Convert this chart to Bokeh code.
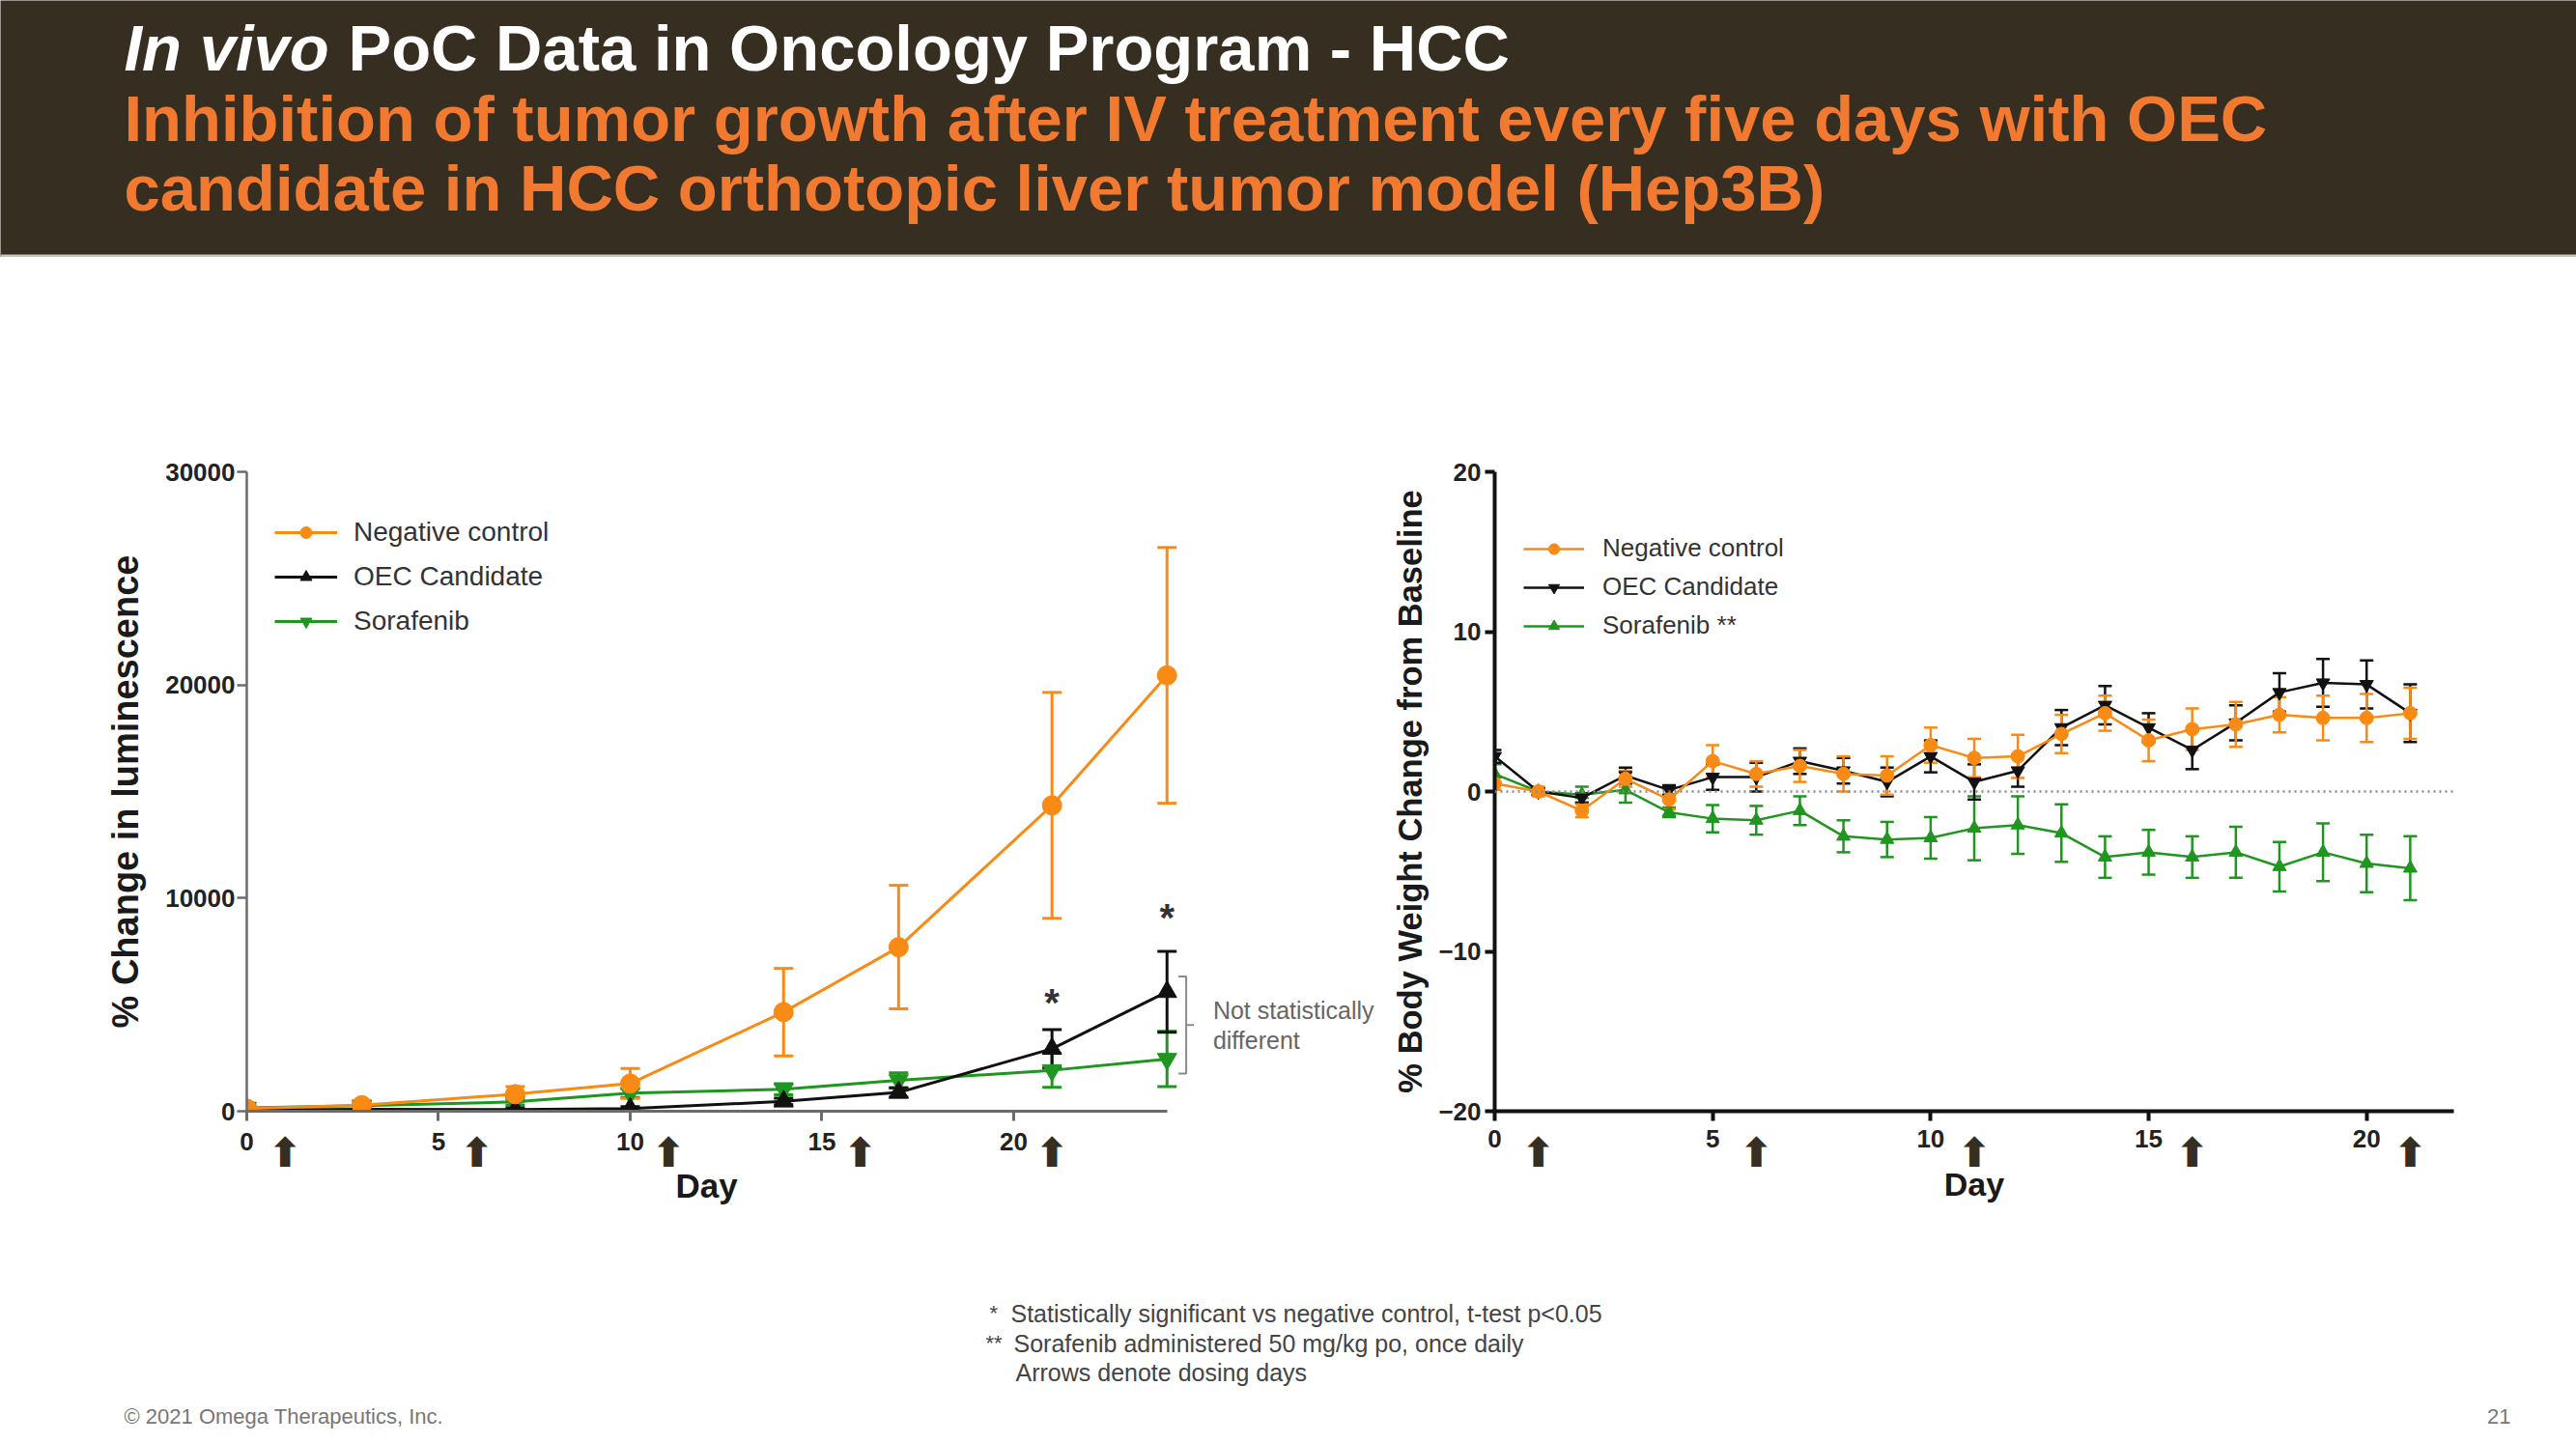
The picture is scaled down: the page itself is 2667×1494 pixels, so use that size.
from bokeh.plotting import figure
from bokeh.models import (ColumnDataSource, Whisker, TeeHead, Legend, LegendItem, Range1d,
                          FixedTicker, Span, NumeralTickFormatter, LinearAxis, Title)
from bokeh.layouts import column, row
from bokeh.embed import file_html
from bokeh.resources import INLINE
from bokeh.core.properties import value

FONT = "Liberation Sans"
ORANGE = "#f98a14"
GREEN = "#1f961f"
BLACK = "#111111"
DARK = "#362e20"
SUB_ORANGE = "#f27a30"

# ---------------- data ----------------
lum_days = [0, 3, 7, 10, 14, 17, 21, 24]
lum_neg = [120, 280, 800, 1300, 4650, 7700, 14350, 20450]
lum_neg_err = [150, 200, 350, 700, 2050, 2900, 5300, 6000]
lum_oec = [60, 90, 80, 120, 460, 880, 2930, 5600]
lum_oec_err = [60, 80, 80, 100, 150, 220, 900, 1900]
lum_sor = [160, 260, 440, 850, 1030, 1450, 1920, 2450]
lum_sor_err = [100, 150, 150, 200, 260, 350, 800, 1300]
sig_days = [21, 24]
sig_y = [5100, 9100]
lum_ticks = [0, 10000, 20000, 30000]

bw_days = list(range(22))
bw_neg = [0.5, 0.0, -1.2, 0.8, -0.5, 1.9, 1.1, 1.6, 1.1, 1.0, 2.9, 2.1, 2.2, 3.6, 4.9, 3.2, 3.9, 4.2, 4.8, 4.6, 4.6, 4.9]
bw_neg_err = [0.4, 0.3, 0.4, 0.5, 0.6, 1.0, 0.8, 1.0, 1.1, 1.2, 1.1, 1.2, 1.35, 1.2, 1.1, 1.3, 1.3, 1.4, 1.1, 1.4, 1.5, 1.6]
bw_oec = [2.2, 0.0, -0.4, 1.0, 0.1, 0.9, 0.9, 1.9, 1.3, 0.6, 2.2, 0.6, 1.3, 4.0, 5.4, 4.0, 2.6, 4.3, 6.2, 6.8, 6.7, 4.9]
bw_oec_err = [0.4, 0.2, 0.3, 0.5, 0.3, 0.8, 0.9, 0.8, 0.8, 0.9, 1.0, 1.1, 1.0, 1.1, 1.2, 0.9, 1.2, 1.1, 1.2, 1.5, 1.5, 1.8]
bw_sor = [1.1, 0.0, -0.2, 0.1, -1.3, -1.7, -1.8, -1.2, -2.8, -3.0, -2.9, -2.3, -2.1, -2.6, -4.1, -3.8, -4.1, -3.8, -4.7, -3.8, -4.5, -4.8]
bw_sor_err = [0.6, 0.2, 0.5, 0.8, 0.3, 0.85, 0.9, 0.9, 1.0, 1.1, 1.3, 2.0, 1.8, 1.8, 1.3, 1.4, 1.3, 1.6, 1.55, 1.8, 1.8, 2.0]
bw_ticks = [-20, -10, 0, 10, 20]

day_ticks = [0, 5, 10, 15, 20]
dose_days = [1, 6, 11, 16, 21]

# bracket ("Not statistically different") on day 24
bracket_day = 24.5
bracket_lo = 1770
bracket_hi = 6320

W = 2667
HEAD_H = 266
MID_H = 1042
FOOT_H = 186
LEFT_W = 1438


def style_axis(ax, color, lw, tick_out, standoff):
    ax.axis_line_color = color
    ax.axis_line_width = lw
    ax.major_tick_line_color = color
    ax.major_tick_line_width = lw
    ax.major_tick_in = 0
    ax.major_tick_out = tick_out
    ax.minor_tick_line_color = None
    ax.major_label_text_font = FONT
    ax.major_label_text_font_size = "26px"
    ax.major_label_text_font_style = "bold"
    ax.major_label_text_color = "#222222"
    ax.major_label_standoff = standoff
    ax.axis_label_text_font = FONT
    ax.axis_label_text_font_style = "bold"
    ax.axis_label_text_color = "#1a1a1a"


def add_series(p, x, y, err, color, marker, size, lw, cap):
    src = ColumnDataSource(dict(x=x, y=y, lo=[a - b for a, b in zip(y, err)],
                                hi=[a + b for a, b in zip(y, err)]))
    ln = p.line("x", "y", source=src, line_color=color, line_width=lw)
    sc = p.scatter("x", "y", source=src, marker=marker, size=size,
                   fill_color=color, line_color=color)
    p.add_layout(Whisker(source=src, base="x", upper="hi", lower="lo",
                         line_color=color, line_width=lw,
                         upper_head=TeeHead(size=cap, line_color=color, line_width=lw),
                         lower_head=TeeHead(size=cap, line_color=color, line_width=lw)))
    return ln, sc


def add_arrow_axis(p, standoff):
    # dosing-day arrows drawn as the tick labels of a second bottom axis
    ax = LinearAxis(ticker=FixedTicker(ticks=dose_days),
                    major_label_overrides={d: "\u2b06" for d in dose_days},
                    axis_line_color=None, major_tick_line_color=None,
                    minor_tick_line_color=None, major_tick_out=0, major_tick_in=0,
                    major_label_standoff=standoff, major_label_text_font="DejaVu Sans",
                    major_label_text_font_style="bold",
                    major_label_text_font_size="42px", major_label_text_color=DARK)
    ax.axis_label_text_font = FONT
    ax.axis_label_text_font_style = "bold"
    ax.axis_label_text_color = "#1a1a1a"
    ax.axis_label_text_font_size = "34px"
    p.add_layout(ax, "below")
    return ax


def page_fig(h, bg="white"):
    f = figure(width=W, height=h, x_range=Range1d(0, W), y_range=Range1d(h, 0), title=None,
               output_backend="svg", toolbar_location=None, x_axis_location=None,
               y_axis_location=None, min_border=0, outline_line_color=None,
               background_fill_color=bg, border_fill_color=bg)
    f.grid.visible = False
    return f


# ---------------- header ----------------
head = page_fig(HEAD_H, DARK)
head.quad(left=[0], right=[W], top=[263], bottom=[HEAD_H], fill_color="#c8c5bc", line_color=None)
head.text(x=[128], y=[49], text=["In vivo"], text_font=value(FONT), text_font_size="67px",
          text_font_style="bold italic", text_color="white", text_baseline="alphabetic")
head.text(x=[360], y=[49], text=["PoC Data in Oncology Program - HCC"], text_font=value(FONT),
          text_font_size="67px", text_font_style="bold", text_color="white",
          text_baseline="alphabetic")
head.text(x=[128, 128], y=[122, 194],
          text=["Inhibition of tumor growth after IV treatment every five days with OEC",
                "candidate in HCC orthotopic liver tumor model (Hep3B)"],
          text_font=value(FONT), text_font_size="67px", text_font_style="bold",
          text_color=SUB_ORANGE, text_baseline="alphabetic")

# ---------------- left chart ----------------
left = figure(width=LEFT_W, height=MID_H, x_range=Range1d(0, 29.8), y_range=Range1d(0, 30000),
              output_backend="svg", toolbar_location=None, min_border_left=255,
              min_border_right=0, min_border_top=222, min_border_bottom=158,
              outline_line_color=None)
left.grid.visible = False
lx = left.xaxis[0]
ly = left.yaxis[0]
style_axis(lx, "#6b6b6b", 3, 10, 12)
style_axis(ly, "#6b6b6b", 2.5, 10, 2)
lx.ticker = FixedTicker(ticks=day_ticks)
lx.bounds = (0, 24)
ly.ticker = FixedTicker(ticks=lum_ticks)
ly.formatter = NumeralTickFormatter(format="0")
ly.axis_label = "% Change in luminescence"
ly.axis_label_text_font_size = "38px"
ly.axis_label_standoff = 17

s_ln, s_sc = add_series(left, lum_days, lum_sor, lum_sor_err, GREEN, "inverted_triangle", 20, 3, 20)
o_ln, o_sc = add_series(left, lum_days, lum_oec, lum_oec_err, BLACK, "triangle", 20, 3, 20)
n_ln, n_sc = add_series(left, lum_days, lum_neg, lum_neg_err, ORANGE, "circle", 20, 3, 20)

left.text(x=sig_days, y=sig_y, text=["*"] * len(sig_days), text_font=value(FONT),
          text_font_size="40px", text_font_style="bold", text_color="#333333",
          text_align="center", text_baseline="middle")

bmid = (bracket_lo + bracket_hi) / 2
left.multi_line(xs=[[bracket_day - 0.2, bracket_day, bracket_day, bracket_day - 0.2],
                    [bracket_day, bracket_day + 0.2]],
                ys=[[bracket_hi, bracket_hi, bracket_lo, bracket_lo], [bmid, bmid]],
                line_color="#8a8a8a", line_width=2)
left.text(x=[bracket_day + 0.7, bracket_day + 0.7], y=[bmid + 700, bmid - 700],
          text=["Not statistically", "different"], text_font=value(FONT),
          text_font_size="25px", text_color="#666666", text_baseline="middle")

add_arrow_axis(left, -25)
# x-axis title centred under the 0-24 day part of the axis
left.add_layout(Title(text="Day", align="left", offset=444, standoff=-30, text_font=FONT,
                      text_font_size="35px", text_font_style="bold", text_color="#1a1a1a"),
                "below")

left.add_layout(Legend(items=[LegendItem(label="Negative control", renderers=[n_ln, n_sc]),
                              LegendItem(label="OEC Candidate", renderers=[o_ln, o_sc]),
                              LegendItem(label="Sorafenib", renderers=[s_ln, s_sc])],
                       location=(29, 491), orientation="vertical", padding=0, margin=0,
                       spacing=14, glyph_width=65, glyph_height=30, label_height=30,
                       label_standoff=17, label_text_font=FONT, label_text_font_size="28px",
                       label_text_color="#333333", background_fill_alpha=0,
                       border_line_alpha=0))

# ---------------- right chart ----------------
RIGHT_W = W - LEFT_W
right = figure(width=RIGHT_W, height=MID_H, x_range=Range1d(0, 22), y_range=Range1d(-20, 20),
               output_backend="svg", toolbar_location=None, min_border_left=107,
               min_border_right=RIGHT_W - 107 - 995, min_border_top=222, min_border_bottom=156,
               outline_line_color=None)
right.grid.visible = False
rx = right.xaxis[0]
ry = right.yaxis[0]
style_axis(rx, BLACK, 4, 10, 9)
style_axis(ry, BLACK, 4, 10, 4)
rx.ticker = FixedTicker(ticks=day_ticks)
ry.ticker = FixedTicker(ticks=bw_ticks)
ry.axis_label = "% Body Weight Change from Baseline"
ry.axis_label_text_font_size = "34.5px"
ry.axis_label_standoff = 7

right.add_layout(Span(location=0, dimension="width", line_color="#8a8a8a",
                      line_dash="dotted", line_width=2.5))

rs_ln, rs_sc = add_series(right, bw_days, bw_sor, bw_sor_err, GREEN, "triangle", 14, 2.5, 14)
ro_ln, ro_sc = add_series(right, bw_days, bw_oec, bw_oec_err, BLACK, "inverted_triangle", 14, 2.5, 14)
rn_ln, rn_sc = add_series(right, bw_days, bw_neg, bw_neg_err, ORANGE, "circle", 14, 2.5, 14)

r_arrows = add_arrow_axis(right, -22)
r_arrows.axis_label = "Day"
r_arrows.axis_label_standoff = -14

right.add_layout(Legend(items=[LegendItem(label="Negative control", renderers=[rn_ln, rn_sc]),
                               LegendItem(label="OEC Candidate", renderers=[ro_ln, ro_sc]),
                               LegendItem(label="Sorafenib **", renderers=[rs_ln, rs_sc])],
                        location=(30, 487), orientation="vertical", padding=0, margin=0,
                        spacing=9, glyph_width=63, glyph_height=28, label_height=28,
                        label_standoff=19, label_text_font=FONT, label_text_font_size="26px",
                        label_text_color="#333333", background_fill_alpha=0,
                        border_line_alpha=0))

# ---------------- footer ----------------
foot = page_fig(FOOT_H)
foot.text(x=[1024, 1020], y=[51, 82], text=["*", "**"], text_font=value(FONT),
          text_font_size="22px", text_color="#444444", text_baseline="middle")
foot.text(x=[1046, 1049, 1051], y=[51, 82, 112],
          text=["Statistically significant vs negative control, t-test p<0.05",
                "Sorafenib administered 50 mg/kg po, once daily",
                "Arrows denote dosing days"],
          text_font=value(FONT), text_font_size="25px", text_color="#444444",
          text_baseline="middle")
foot.text(x=[128], y=[158], text=["\u00a9 2021 Omega Therapeutics, Inc."], text_font=value(FONT),
          text_font_size="22px", text_color="#777777", text_baseline="middle")
foot.text(x=[2599], y=[158], text=["21"], text_font=value(FONT), text_font_size="22px",
          text_color="#777777", text_baseline="middle", text_align="right")

page = column(head, row(left, right), foot)
open("out.html", "w").write(file_html(page, INLINE))
